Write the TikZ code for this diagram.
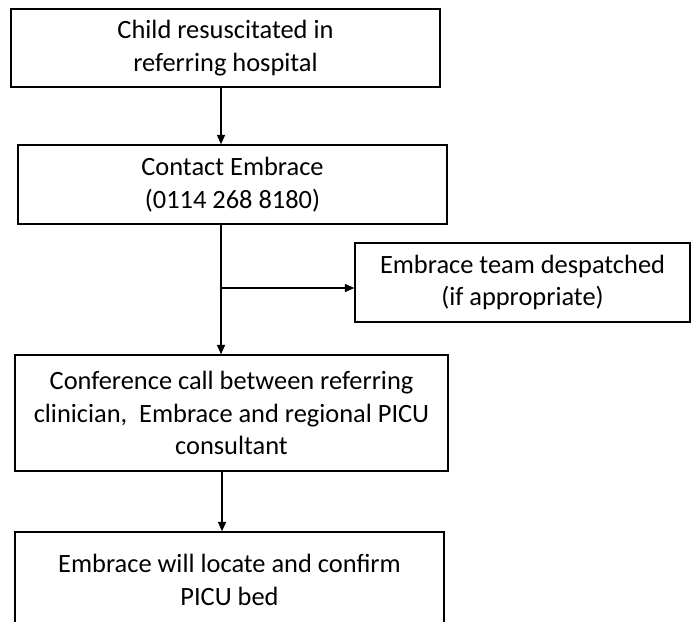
\documentclass[tikz,border=0pt]{standalone}
\usepackage{fontspec}
\setmainfont{Carlito}
\usepackage{tikz}
\usetikzlibrary{arrows.meta,positioning,calc}
\tikzstyle{arrow} = [line width=1.1pt, -{Triangle[length=7pt,width=6pt]}]
\tikzstyle{stepbox} = [draw, line width=1.1pt, align=center, inner sep=0pt,
  font=\fontsize{19.8}{24.5}\selectfont]

\begin{document}
\begin{tikzpicture}[x=0.75pt,y=-0.75pt]
\useasboundingbox (0,0) rectangle (691,621);
\clip (0,0) rectangle (691,621);
%\begin{scope}
 \node[stepbox, minimum width=321.75pt, minimum height=58.5pt] (start) at (225.5,48)
    {Child resuscitated in\\referring hospital};
 \node[stepbox, minimum width=321.75pt, minimum height=59.25pt] (contact) at (232.5,184.5)
    {Contact Embrace\\(0114 268 8180)};
 \node[stepbox, minimum width=251.25pt, minimum height=59.25pt] (team) at (522.5,282.5)
    {Embrace team despatched\\(if appropriate)};
 \node[stepbox, minimum width=324.75pt, minimum height=87pt] (conf) at (231.5,413)
    {Conference call between referring\\clinician,\ \ Embrace and regional PICU\\consultant};
 \node[stepbox, minimum width=321.75pt, minimum height=72pt] (bed) at (229.5,580)
    {Embrace will locate and confirm\\PICU bed};

 \coordinate (spine) at (221,0);
 \coordinate (split) at (221,288);

 \draw[arrow] (start.south -| spine) -- (contact.north -| spine);
 \draw[arrow] (contact.south -| spine) -- (conf.north -| spine);
 \draw[arrow] (split) -- (split -| team.west);
 \draw[arrow] ($(conf.south -| spine)+(1,0)$) -- ($(bed.north -| spine)+(1,0)$);
%\end{scope}
\end{tikzpicture}
\end{document}
